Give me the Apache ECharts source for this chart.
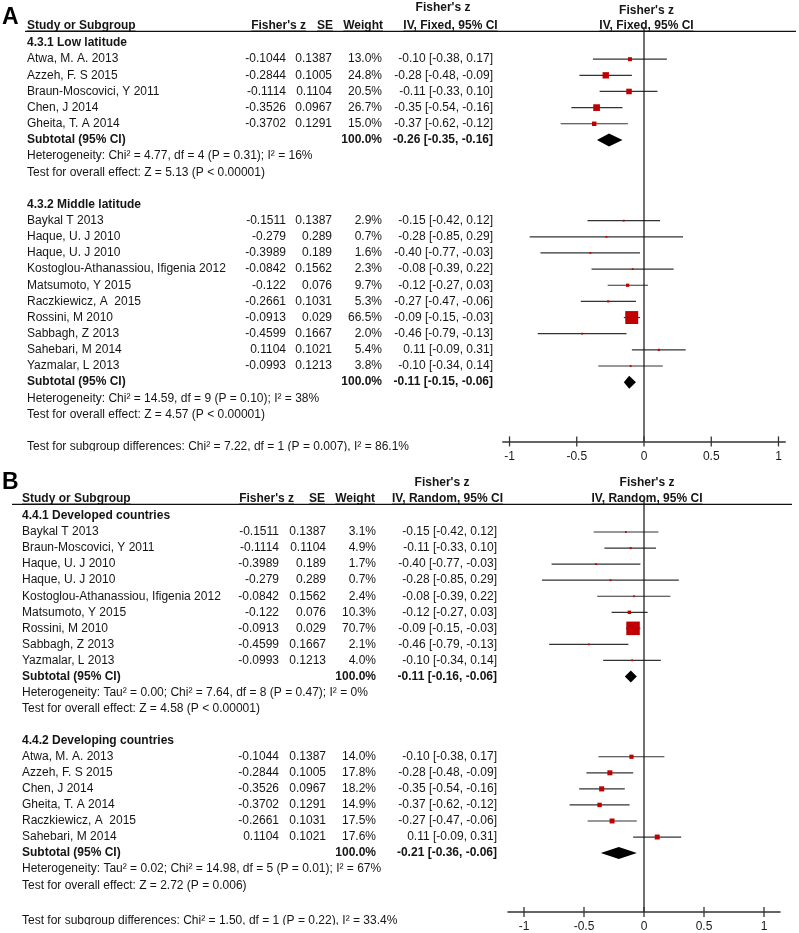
<!DOCTYPE html>
<html>
<head>
<meta charset="utf-8">
<script src="https://cdn.jsdelivr.net/npm/echarts@6/dist/echarts.min.js"></script>
<style>html,body{margin:0;padding:0;background:#fff}#c{width:799px;height:933px}</style>
</head>
<body>
<div id="c"></div>
<script>
// ================= DATA =================
// Panel A — 4.3.1 Low latitude
const aLowTitle = "4.3.1 Low latitude";
const aLowNames = ["Atwa, M. A. 2013", "Azzeh, F. S 2015", "Braun-Moscovici, Y 2011", "Chen, J 2014", "Gheita, T. A 2014"];
const aLowZ   = [-0.1044, -0.2844, -0.1114, -0.3526, -0.3702];
const aLowSE  = [0.1387, 0.1005, 0.1104, 0.0967, 0.1291];
const aLowW   = [13.0, 24.8, 20.5, 26.7, 15.0];
const aLowEst = [-0.10, -0.28, -0.11, -0.35, -0.37];
const aLowLo  = [-0.38, -0.48, -0.33, -0.54, -0.62];
const aLowHi  = [0.17, -0.09, 0.10, -0.16, -0.12];
const aLowTotal = [-0.26, -0.35, -0.16];
const aLowHet  = "Heterogeneity: Chi² = 4.77, df = 4 (P = 0.31); I² = 16%";
const aLowTest = "Test for overall effect: Z = 5.13 (P < 0.00001)";

// Panel A — 4.3.2 Middle latitude
const aMidTitle = "4.3.2 Middle latitude";
const aMidNames = ["Baykal T 2013", "Haque, U. J 2010", "Haque, U. J 2010", "Kostoglou-Athanassiou, Ifigenia 2012", "Matsumoto, Y 2015", "Raczkiewicz, A  2015", "Rossini, M 2010", "Sabbagh, Z 2013", "Sahebari, M 2014", "Yazmalar, L 2013"];
const aMidZ   = [-0.1511, -0.279, -0.3989, -0.0842, -0.122, -0.2661, -0.0913, -0.4599, 0.1104, -0.0993];
const aMidSE  = [0.1387, 0.289, 0.189, 0.1562, 0.076, 0.1031, 0.029, 0.1667, 0.1021, 0.1213];
const aMidW   = [2.9, 0.7, 1.6, 2.3, 9.7, 5.3, 66.5, 2.0, 5.4, 3.8];
const aMidEst = [-0.15, -0.28, -0.40, -0.08, -0.12, -0.27, -0.09, -0.46, 0.11, -0.10];
const aMidLo  = [-0.42, -0.85, -0.77, -0.39, -0.27, -0.47, -0.15, -0.79, -0.09, -0.34];
const aMidHi  = [0.12, 0.29, -0.03, 0.22, 0.03, -0.06, -0.03, -0.13, 0.31, 0.14];
const aMidTotal = [-0.11, -0.15, -0.06];
const aMidHet  = "Heterogeneity: Chi² = 14.59, df = 9 (P = 0.10); I² = 38%";
const aMidTest = "Test for overall effect: Z = 4.57 (P < 0.00001)";
const aDiff = "Test for subgroup differences: Chi² = 7.22, df = 1 (P = 0.007), I² = 86.1%";
const aMethod = "IV, Fixed, 95% CI";

// Panel B — 4.4.1 Developed countries
const bDevTitle = "4.4.1 Developed countries";
const bDevNames = ["Baykal T 2013", "Braun-Moscovici, Y 2011", "Haque, U. J 2010", "Haque, U. J 2010", "Kostoglou-Athanassiou, Ifigenia 2012", "Matsumoto, Y 2015", "Rossini, M 2010", "Sabbagh, Z 2013", "Yazmalar, L 2013"];
const bDevZ   = [-0.1511, -0.1114, -0.3989, -0.279, -0.0842, -0.122, -0.0913, -0.4599, -0.0993];
const bDevSE  = [0.1387, 0.1104, 0.189, 0.289, 0.1562, 0.076, 0.029, 0.1667, 0.1213];
const bDevW   = [3.1, 4.9, 1.7, 0.7, 2.4, 10.3, 70.7, 2.1, 4.0];
const bDevEst = [-0.15, -0.11, -0.40, -0.28, -0.08, -0.12, -0.09, -0.46, -0.10];
const bDevLo  = [-0.42, -0.33, -0.77, -0.85, -0.39, -0.27, -0.15, -0.79, -0.34];
const bDevHi  = [0.12, 0.10, -0.03, 0.29, 0.22, 0.03, -0.03, -0.13, 0.14];
const bDevTotal = [-0.11, -0.16, -0.06];
const bDevHet  = "Heterogeneity: Tau² = 0.00; Chi² = 7.64, df = 8 (P = 0.47); I² = 0%";
const bDevTest = "Test for overall effect: Z = 4.58 (P < 0.00001)";

// Panel B — 4.4.2 Developing countries
const bDvgTitle = "4.4.2 Developing countries";
const bDvgNames = ["Atwa, M. A. 2013", "Azzeh, F. S 2015", "Chen, J 2014", "Gheita, T. A 2014", "Raczkiewicz, A  2015", "Sahebari, M 2014"];
const bDvgZ   = [-0.1044, -0.2844, -0.3526, -0.3702, -0.2661, 0.1104];
const bDvgSE  = [0.1387, 0.1005, 0.0967, 0.1291, 0.1031, 0.1021];
const bDvgW   = [14.0, 17.8, 18.2, 14.9, 17.5, 17.6];
const bDvgEst = [-0.10, -0.28, -0.35, -0.37, -0.27, 0.11];
const bDvgLo  = [-0.38, -0.48, -0.54, -0.62, -0.47, -0.09];
const bDvgHi  = [0.17, -0.09, -0.16, -0.12, -0.06, 0.31];
const bDvgTotal = [-0.21, -0.36, -0.06];
const bDvgHet  = "Heterogeneity: Tau² = 0.02; Chi² = 14.98, df = 5 (P = 0.01); I² = 67%";
const bDvgTest = "Test for overall effect: Z = 2.72 (P = 0.006)";
const bDiff = "Test for subgroup differences: Chi² = 1.50, df = 1 (P = 0.22), I² = 33.4%";
const bMethod = "IV, Random, 95% CI";

const colHeaders = ["Study or Subgroup", "Fisher's z", "SE", "Weight"];
const effectLabel = "Fisher's z";
const subtotalLabel = "Subtotal (95% CI)";
const subtotalWeight = 100.0;
const xTicks = [-1, -0.5, 0, 0.5, 1];

// ================= LAYOUT / STYLE =================
const FONT = "'Liberation Sans', Arial, Helvetica, sans-serif";
const TEXT = "#151515";
const RED = "#c00000";
const LINE = "#333333";
const Y_MIN = -0.72, Y_MAX = 24.67;

const LAYOUT = {
  A: { grid: { left: 502.8, top: 31.4, width: 282.4, height: 410 }, xMin: -1.05, xMax: 1.05,
       nameX: 27, zX: 286, seX: 332, wX: 382, ciX: 493,
       hNameX: 27, hZX: 306, hSEX: 333, hWX: 383, ciTopX: 443, ciMethodX: 450.5, plotX: 646.5,
       lineX1: 25, lineX2: 796, topCiR: -2.18, topPlotR: -2.0, diamondHalf: 6.5, letter: "A", letterTop: 6, clipRight: 480, diffGap: 2.0 },
  B: { grid: { left: 508, top: 504.4, width: 272, height: 410 }, xMin: -1.1333, xMax: 1.1333,
       nameX: 22, zX: 279, seX: 326, wX: 376, ciX: 497,
       hNameX: 22, hZX: 294, hSEX: 325, hWX: 375, ciTopX: 442, ciMethodX: 447.5, plotX: 647,
       lineX1: 12, lineX2: 792, topCiR: -2.1, topPlotR: -2.1, diamondHalf: 6, letter: "B", letterTop: 471.5, clipRight: 480, diffGap: 2.2 }
};

const mctx = document.createElement('canvas').getContext('2d');
function textWidth(t, font) { mctx.font = font; return mctx.measureText(t).width; }
function fmtCI(e, l, h) { return e.toFixed(2) + " [" + l.toFixed(2) + ", " + h.toFixed(2) + "]"; }
function boxSide(w) { return Math.max(1.8, 0.63 * Math.pow(w, 0.72)); }

function group(title, names, z, se, w, est, lo, hi, total, het, test) {
  return { title, names, z, se, w, est, lo, hi, total, het, test };
}

function buildPanel(groups, diffText, method, diffGap) {
  const rows = [], studies = [], totals = [];
  rows.push({ r: -1.05, kind: 'header' });
  rows.push({ r: 0, kind: 'top' });
  let r = 0, lastR = 0;
  groups.forEach(g => {
    rows.push({ r, kind: 'title', text: g.title });
    g.names.forEach((n, i) => {
      r++;
      rows.push({ r, kind: 'study', name: n, z: String(g.z[i]), se: String(g.se[i]), w: g.w[i].toFixed(1) + '%', ci: fmtCI(g.est[i], g.lo[i], g.hi[i]) });
      studies.push([g.z[i], r, g.lo[i], g.hi[i], g.w[i]]);
    });
    r++;
    rows.push({ r, kind: 'subtotal', w: subtotalWeight.toFixed(1) + '%', ci: fmtCI(g.total[0], g.total[1], g.total[2]) });
    totals.push([g.total[0], r, g.total[1], g.total[2]]);
    r++; rows.push({ r, kind: 'note', text: g.het });
    r++; rows.push({ r, kind: 'note', text: g.test });
    lastR = r;
    r += 2;
  });
  rows.push({ r: lastR + diffGap, kind: 'diff', text: diffText });
  return { rows, studies, totals, method };
}

const panelA = buildPanel([
  group(aLowTitle, aLowNames, aLowZ, aLowSE, aLowW, aLowEst, aLowLo, aLowHi, aLowTotal, aLowHet, aLowTest),
  group(aMidTitle, aMidNames, aMidZ, aMidSE, aMidW, aMidEst, aMidLo, aMidHi, aMidTotal, aMidHet, aMidTest)
], aDiff, aMethod, LAYOUT.A.diffGap);
const panelB = buildPanel([
  group(bDevTitle, bDevNames, bDevZ, bDevSE, bDevW, bDevEst, bDevLo, bDevHi, bDevTotal, bDevHet, bDevTest),
  group(bDvgTitle, bDvgNames, bDvgZ, bDvgSE, bDvgW, bDvgEst, bDvgLo, bDvgHi, bDvgTotal, bDvgHet, bDvgTest)
], bDiff, bMethod, LAYOUT.B.diffGap);

function txt(text, x, y, align, bold, size) {
  return { type: 'text', silent: true, style: { text, x, y, textAlign: align, textVerticalAlign: 'middle', fill: TEXT,
    font: (bold ? 'bold ' : '') + (size || 12) + 'px ' + FONT } };
}
function hline(x1, x2, y, w, color) {
  return { type: 'line', silent: true, shape: { x1, y1: y, x2, y2: y }, style: { stroke: color || '#111', lineWidth: w || 1 } };
}

function tableSeries(gi, panel, L) {
  const rows = panel.rows;
  return {
    type: 'custom', coordinateSystem: 'cartesian2d', xAxisIndex: gi, yAxisIndex: gi, clip: false, silent: true, z: 5,
    data: rows.map(r => [0, r.r]),
    renderItem: function (params, api) {
      const row = rows[params.dataIndex];
      const y = api.coord([0, row.r])[1];
      const ch = [];
      const boldF = 'bold 12px ' + FONT;
      if (row.kind === 'header') {
        const topY = api.coord([0, Y_MIN])[1];
        const uy = y + 5;
        const items = [[colHeaders[0], L.hNameX, 'left'], [colHeaders[1], L.hZX, 'right'], [colHeaders[2], L.hSEX, 'right'], [colHeaders[3], L.hWX, 'right'],
                       [panel.method, L.ciMethodX, 'center'], [panel.method, L.plotX, 'center']];
        items.forEach(it => {
          ch.push(txt(it[0], it[1], y, it[2], true));
          const w = textWidth(it[0], boldF);
          const x0 = it[2] === 'left' ? it[1] : it[2] === 'right' ? it[1] - w : it[1] - w / 2;
          ch.push(hline(x0, x0 + w, uy, 1, '#222'));
        });
        ch.push(hline(L.lineX1, L.lineX2, topY, 1.3, '#111'));
      } else if (row.kind === 'top') {
        ch.push(txt(effectLabel, L.ciTopX, api.coord([0, L.topCiR])[1], 'center', true));
        ch.push(txt(effectLabel, L.plotX, api.coord([0, L.topPlotR])[1], 'center', true));
      } else if (row.kind === 'title') {
        ch.push(txt(row.text, L.nameX, y, 'left', true));
      } else if (row.kind === 'study') {
        ch.push(txt(row.name, L.nameX, y, 'left', false));
        ch.push(txt(row.z, L.zX, y, 'right', false));
        ch.push(txt(row.se, L.seX, y, 'right', false));
        ch.push(txt(row.w, L.wX, y, 'right', false));
        ch.push(txt(row.ci, L.ciX, y, 'right', false));
      } else if (row.kind === 'subtotal') {
        ch.push(txt(subtotalLabel, L.nameX, y, 'left', true));
        ch.push(txt(row.w, L.wX, y, 'right', true));
        ch.push(txt(row.ci, L.ciX, y, 'right', true));
      } else if (row.kind === 'note') {
        ch.push(txt(row.text, L.nameX, y, 'left', false));
      } else if (row.kind === 'diff') {
        ch.push(txt(row.text, L.nameX, y, 'left', false));
        ch.push({ type: 'rect', silent: true, z2: 50, shape: { x: 0, y: y + 4.6, width: L.clipRight, height: 8 }, style: { fill: '#ffffff' } });
      }
      return { type: 'group', children: ch };
    }
  };
}

function studySeries(gi, panel) {
  return {
    type: 'custom', coordinateSystem: 'cartesian2d', xAxisIndex: gi, yAxisIndex: gi, clip: false, silent: true, z: 6,
    data: panel.studies,
    renderItem: function (params, api) {
      const c = api.coord([api.value(0), api.value(1)]);
      const l = api.coord([api.value(2), api.value(1)]);
      const h = api.coord([api.value(3), api.value(1)]);
      const s = boxSide(api.value(4));
      return { type: 'group', children: [
        { type: 'line', shape: { x1: l[0], y1: c[1], x2: h[0], y2: c[1] }, style: { stroke: LINE, lineWidth: 1.2 } },
        { type: 'rect', shape: { x: c[0] - s / 2, y: c[1] - s / 2, width: s, height: s }, style: { fill: RED } }
      ] };
    }
  };
}

function diamondSeries(gi, panel, L) {
  return {
    type: 'custom', coordinateSystem: 'cartesian2d', xAxisIndex: gi, yAxisIndex: gi, clip: false, silent: true, z: 6,
    data: panel.totals,
    renderItem: function (params, api) {
      const c = api.coord([api.value(0), api.value(1)]);
      const l = api.coord([api.value(2), api.value(1)]);
      const h = api.coord([api.value(3), api.value(1)]);
      const d = L.diamondHalf;
      return { type: 'polygon', shape: { points: [[l[0], c[1]], [c[0], c[1] - d], [h[0], c[1]], [c[0], c[1] + d]] }, style: { fill: '#000' } };
    }
  };
}

function axisDecorSeries(gi) {
  const data = [[0, -0.98, 'zero']].concat(xTicks.map(v => [v, Y_MAX, 'tick']));
  return {
    type: 'custom', coordinateSystem: 'cartesian2d', xAxisIndex: gi, yAxisIndex: gi, clip: false, silent: true, z: 7,
    data: data,
    renderItem: function (params, api) {
      const item = data[params.dataIndex];
      if (item[2] === 'zero') {
        const p1 = api.coord([0, item[1]]);
        const p2 = api.coord([0, Y_MAX]);
        return { type: 'line', shape: { x1: p1[0], y1: p1[1], x2: p2[0], y2: p2[1] }, style: { stroke: '#111', lineWidth: 1.2 } };
      }
      const p = api.coord([item[0], Y_MAX]);
      return { type: 'line', shape: { x1: p[0], y1: p[1] - 5, x2: p[0], y2: p[1] + 5 }, style: { stroke: LINE, lineWidth: 1.3 } };
    }
  };
}

function xAxisFor(gi, L) {
  return {
    gridIndex: gi, type: 'value', position: 'bottom', min: L.xMin, max: L.xMax,
    axisLine: { show: true, onZero: false, lineStyle: { color: LINE, width: 1.5 } },
    axisTick: { show: false },
    splitLine: { show: false },
    axisLabel: { customValues: xTicks, margin: 9, color: '#1a1a1a', fontSize: 12, fontFamily: FONT }
  };
}
function yAxisFor(gi) {
  return { gridIndex: gi, type: 'value', inverse: true, min: Y_MIN, max: Y_MAX, show: false };
}

const chart = echarts.init(document.getElementById('c'), null, { renderer: 'canvas' });
chart.setOption({
  animation: false,
  backgroundColor: '#ffffff',
  grid: [LAYOUT.A.grid, LAYOUT.B.grid],
  xAxis: [xAxisFor(0, LAYOUT.A), xAxisFor(1, LAYOUT.B)],
  yAxis: [yAxisFor(0), yAxisFor(1)],
  graphic: [
    { type: 'text', left: 2, top: LAYOUT.A.letterTop, style: { text: LAYOUT.A.letter, font: 'bold 23px ' + FONT, fill: '#000' } },
    { type: 'text', left: 2, top: LAYOUT.B.letterTop, style: { text: LAYOUT.B.letter, font: 'bold 23px ' + FONT, fill: '#000' } }
  ],
  series: [
    tableSeries(0, panelA, LAYOUT.A), studySeries(0, panelA), diamondSeries(0, panelA, LAYOUT.A), axisDecorSeries(0),
    tableSeries(1, panelB, LAYOUT.B), studySeries(1, panelB), diamondSeries(1, panelB, LAYOUT.B), axisDecorSeries(1)
  ]
});
</script>
</body>
</html>
